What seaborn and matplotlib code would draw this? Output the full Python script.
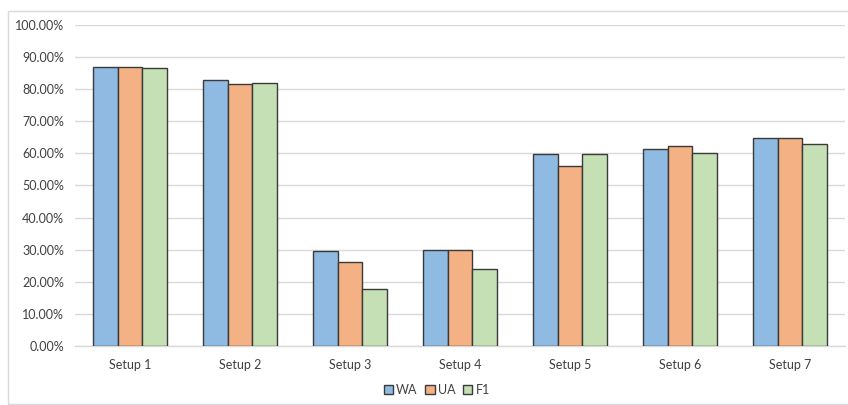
import matplotlib
matplotlib.use("Agg")
import matplotlib.pyplot as plt
from matplotlib.patches import Rectangle
from matplotlib.ticker import PercentFormatter
import seaborn as sns
import pandas as pd

setups = ["Setup 1", "Setup 2", "Setup 3", "Setup 4", "Setup 5", "Setup 6", "Setup 7"]
wa = [0.869, 0.827, 0.297, 0.300, 0.598, 0.613, 0.649]
ua = [0.869, 0.816, 0.263, 0.300, 0.561, 0.624, 0.649]
f1 = [0.864, 0.819, 0.178, 0.241, 0.598, 0.601, 0.629]
metrics = ["WA", "UA", "F1"]
colors = ["#8FBAE1", "#F4B183", "#C5E0B4"]

df = pd.DataFrame({
    "setup": setups * 3,
    "metric": [m for m in metrics for _ in setups],
    "value": wa + ua + f1,
})

sns.set_theme(style="white")
plt.rcParams["font.family"] = ["Lato", "DejaVu Sans"]

fig = plt.figure(figsize=(8.48, 4.05), dpi=100)
ax = fig.add_axes([0.0884, 0.145, 0.908, 0.794])

sns.barplot(data=df, x="setup", y="value", hue="metric", palette=colors,
            width=0.667, gap=0, edgecolor="#3a3a3a", linewidth=1.0,
            saturation=1, ax=ax, legend=True, zorder=3)

ax.set_ylim(0, 1.0)
ax.set_yticks([i / 10 for i in range(11)])
ax.yaxis.set_major_formatter(PercentFormatter(1.0, decimals=2))
ax.grid(axis="y", color="#D9D9D9", linewidth=1.0, zorder=0)
ax.set_axisbelow(True)
for side in ["top", "right", "left"]:
    ax.spines[side].set_visible(False)
ax.spines["bottom"].set_color("#D9D9D9")
ax.spines["bottom"].set_linewidth(1.0)
ax.tick_params(axis="both", length=0, labelsize=9, colors="#404040", pad=8)
ax.tick_params(axis="x", pad=9)
ax.set_xlabel("")
ax.set_ylabel("")
ax.set_xlim(-0.5, len(setups) - 0.5)

leg = ax.legend(loc="center", bbox_to_anchor=(0.515, 0.037),
                bbox_transform=fig.transFigure, ncol=3, frameon=False,
                fontsize=9, handlelength=0.75, handleheight=0.75,
                handletextpad=0.25, columnspacing=0.6)
for t in leg.get_texts():
    t.set_color("#404040")

fig.patches.append(Rectangle((8 / 848, 0.002), 1.2, 1 - 11 / 405 - 0.002,
                             transform=fig.transFigure, fill=False,
                             edgecolor="#D9D9D9", linewidth=1.0))

fig.savefig("out.png", dpi=100, facecolor="white")
